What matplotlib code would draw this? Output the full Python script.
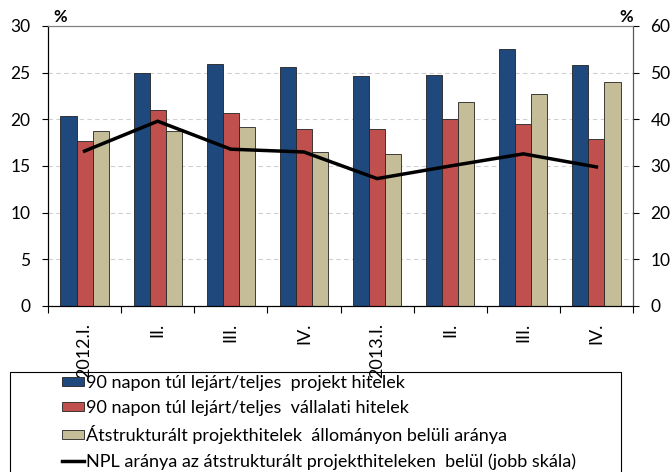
import matplotlib.pyplot as plt
from matplotlib.patches import Rectangle
import numpy as np

plt.rcParams['font.family'] = ['Lato', 'DejaVu Sans']

quarters = ['2012.I.', 'II.', 'III.', 'IV.', '2013.I.', 'II.', 'III.', 'IV.']
project_90 = [20.4, 25.0, 25.9, 25.6, 24.6, 24.8, 27.5, 25.8]
corporate_90 = [17.7, 21.0, 20.7, 19.0, 19.0, 20.0, 19.5, 17.9]
restructured = [18.8, 18.7, 19.2, 16.5, 16.3, 21.9, 22.7, 24.0]
npl_share = [33.2, 39.6, 33.6, 33.0, 27.3, 30.0, 32.6, 29.8]

labels = ['90 napon túl lejárt/teljes  projekt hitelek',
          '90 napon túl lejárt/teljes  vállalati hitelek',
          'Átstrukturált projekthitelek  állományon belüli aránya',
          'NPL aránya az átstrukturált projekthiteleken  belül (jobb skála)']

W, H = 672, 472
fig = plt.figure(figsize=(W / 100, H / 100), dpi=100)
ax = fig.add_axes([48 / W, 1 - 306 / H, 585 / W, 280 / H])
ax2 = ax.twinx()

x = np.arange(len(quarters))
w = 0.22
b1 = ax.bar(x - w, project_90, w, color='#1F497D', edgecolor='#222222', linewidth=0.6, zorder=2)
b2 = ax.bar(x, corporate_90, w, color='#C0504D', edgecolor='#222222', linewidth=0.6, zorder=2)
b3 = ax.bar(x + w, restructured, w, color='#C4BD97', edgecolor='#222222', linewidth=0.6, zorder=2)
ln, = ax2.plot(x, npl_share, color='black', linewidth=2.5, zorder=3)

ax.set_xlim(-0.5, len(quarters) - 0.5)
ax.set_ylim(0, 30)
ax2.set_ylim(0, 60)
ax.set_yticks(np.arange(0, 31, 5))
ax2.set_yticks(np.arange(0, 61, 10))

ax.grid(axis='y', linestyle=(0, (4, 3)), color='#d0d0d0', linewidth=0.8, zorder=0)
ax.set_axisbelow(True)

ax.set_xticks(x)
ax.set_xticklabels(quarters, rotation=90, fontsize=13, va='top')
ax.tick_params(axis='x', which='major', length=0, pad=12)
ax.set_xticks(np.arange(-0.5, len(quarters)), minor=True)
ax.tick_params(axis='x', which='minor', length=5, width=0.8)
ax.tick_params(axis='y', labelsize=12.5, length=4.5, width=0.8, pad=8)
ax2.tick_params(axis='y', labelsize=12.5, length=4.5, width=0.8, pad=8, colors='black')

for a in (ax, ax2):
    a.spines['top'].set_color('#808080')
    a.spines['right'].set_color('#555555')
    a.spines['left'].set_color('black')
    a.spines['bottom'].set_color('black')

fig.text(60 / W, 1 - 17 / H, '%', fontsize=12, fontweight='bold', ha='center', va='center')
fig.text(626 / W, 1 - 17 / H, '%', fontsize=12, fontweight='bold', ha='center', va='center')

# legend box, cut off at the bottom edge like in the original
fig.patches.append(Rectangle((10 / W, -0.05), 611 / W, 0.05 + 1 - 372 / H,
                             transform=fig.transFigure, fill=False,
                             edgecolor='black', linewidth=0.8))
leg = fig.legend([b1, b2, b3, ln], labels, loc='upper left',
                 bbox_to_anchor=(62 / W, 1 - 375 / H), ncol=1, fontsize=13,
                 frameon=False, handlelength=1.2, handleheight=0.45,
                 handletextpad=0.15, labelspacing=0.5,
                 borderpad=0, borderaxespad=0)

fig.savefig('out.png', dpi=100)
